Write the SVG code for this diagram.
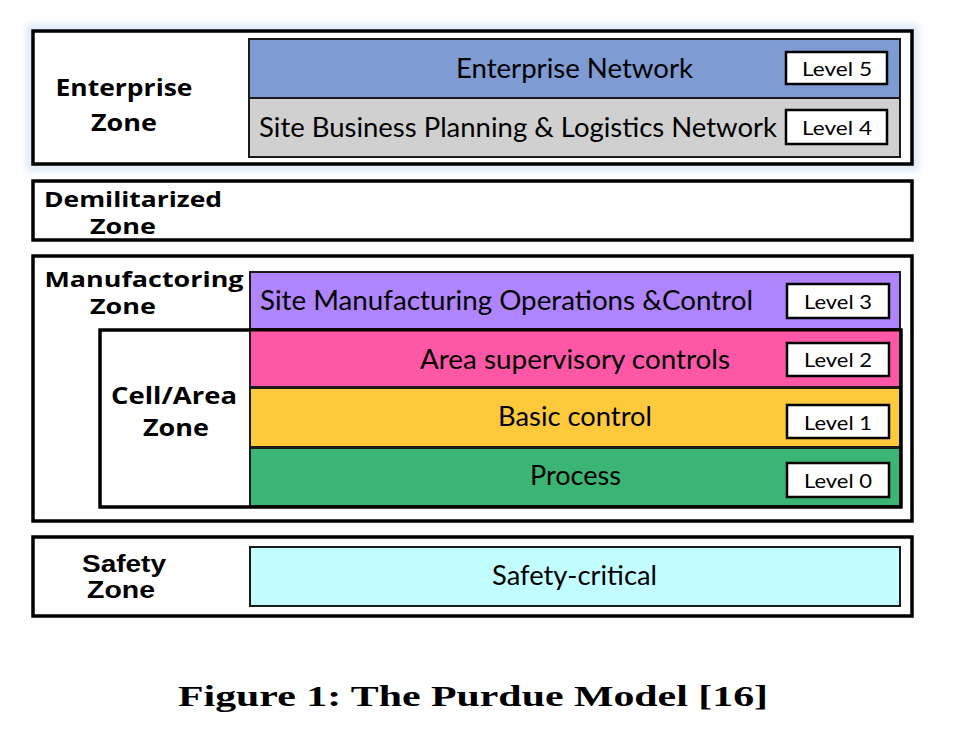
<svg xmlns="http://www.w3.org/2000/svg" width="953" height="729" viewBox="0 0 953 729">
<defs>
<style>
.zone{fill:#fff;stroke:#000;stroke-width:3.5}
.row{stroke:#1a1a1a;stroke-width:2}
.lvl{fill:#fff;stroke:#000;stroke-width:2.5}
.zt{font-family:"Open Sans","Liberation Sans",sans-serif;font-weight:bold;font-size:24px;fill:#000;text-anchor:middle}
.zs{font-size:22px}
.rt{font-family:Lato,"Open Sans",sans-serif;font-size:27px;fill:#000}
.lt{font-family:Lato,"Open Sans",sans-serif;font-size:20px;fill:#000}
.st{font-family:"Liberation Sans",Arial,sans-serif;font-weight:bold;font-size:23px;fill:#000}
.cap{font-family:"Liberation Serif","DejaVu Serif",serif;font-weight:bold;font-size:30px;fill:#000}
</style>
<filter id="glow" x="-5%" y="-10%" width="110%" height="120%"><feGaussianBlur stdDeviation="3"/></filter>
</defs>
<rect width="953" height="729" fill="#fff"/>

<g id="enterprise-zone">
<rect x="30" y="28" width="885" height="139" fill="none" stroke="#dfe9f7" stroke-width="8" filter="url(#glow)"/>
<rect class="zone" x="33" y="31" width="879" height="133"/>
<text class="zt" x="124" y="96" textLength="137" lengthAdjust="spacingAndGlyphs">Enterprise</text>
<text class="zt" x="124" y="131" textLength="66" lengthAdjust="spacingAndGlyphs">Zone</text>
</g>
<g id="level5">
<rect class="row" x="249" y="39" width="651" height="59" fill="#7f9bd3"/>
<text class="rt" x="456" y="78" textLength="237" lengthAdjust="spacingAndGlyphs">Enterprise Network</text>
<rect class="lvl" x="786" y="52" width="101" height="32"/>
<text class="lt" x="802" y="76" textLength="70" lengthAdjust="spacingAndGlyphs">Level 5</text>
</g>
<g id="level4">
<rect class="row" x="249" y="98" width="651" height="59" fill="#d0d0d0"/>
<text class="rt" x="259" y="137" textLength="518" lengthAdjust="spacingAndGlyphs">Site Business Planning &amp; Logistics Network</text>
<rect class="lvl" x="786" y="110" width="101" height="34"/>
<text class="lt" x="802" y="135" textLength="70" lengthAdjust="spacingAndGlyphs">Level 4</text>
</g>

<g id="dmz">
<rect class="zone" x="33" y="181" width="879" height="59"/>
<text class="zt zs" x="133" y="207" textLength="178" lengthAdjust="spacingAndGlyphs">Demilitarized</text>
<text class="zt zs" x="123" y="234" textLength="66" lengthAdjust="spacingAndGlyphs">Zone</text>
</g>

<g id="manufacturing-zone">
<rect class="zone" x="33" y="256" width="879" height="265"/>
<text class="zt zs" x="144" y="287" textLength="199" lengthAdjust="spacingAndGlyphs">Manufactoring</text>
<text class="zt zs" x="123" y="314" textLength="66" lengthAdjust="spacingAndGlyphs">Zone</text>
</g>
<g id="level3">
<rect class="row" x="250" y="272" width="650" height="57" fill="#af84fd"/>
<text class="rt" x="260" y="310" textLength="493" lengthAdjust="spacingAndGlyphs">Site Manufacturing Operations &amp;Control</text>
<rect class="lvl" x="787" y="284" width="102" height="34"/>
<text class="lt" x="804" y="309" textLength="68" lengthAdjust="spacingAndGlyphs">Level 3</text>
</g>
<g id="cell-area-zone">
<rect x="100" y="330" width="801" height="177" fill="#fff" stroke="#000" stroke-width="3"/>
<text class="zt" x="174" y="404" textLength="126" lengthAdjust="spacingAndGlyphs">Cell/Area</text>
<text class="zt" x="176" y="436" textLength="66" lengthAdjust="spacingAndGlyphs">Zone</text>
</g>
<g id="level2">
<rect class="row" x="250" y="330" width="650" height="57" fill="#fe57a8"/>
<text class="rt" x="420" y="369" textLength="310" lengthAdjust="spacingAndGlyphs">Area supervisory controls</text>
<rect class="lvl" x="787" y="343" width="102" height="33"/>
<text class="lt" x="804" y="367" textLength="68" lengthAdjust="spacingAndGlyphs">Level 2</text>
</g>
<g id="level1">
<rect class="row" x="250" y="388" width="650" height="59" fill="#fec93a"/>
<text class="rt" x="498" y="426" textLength="154" lengthAdjust="spacingAndGlyphs">Basic control</text>
<rect class="lvl" x="787" y="405" width="102" height="33"/>
<text class="lt" x="804" y="430" textLength="68" lengthAdjust="spacingAndGlyphs">Level 1</text>
</g>
<g id="level0">
<rect class="row" x="250" y="448" width="650" height="58" fill="#3bb574"/>
<text class="rt" x="530" y="485" textLength="91" lengthAdjust="spacingAndGlyphs">Process</text>
<rect class="lvl" x="787" y="463" width="102" height="34"/>
<text class="lt" x="804" y="488" textLength="68" lengthAdjust="spacingAndGlyphs">Level 0</text>
</g>
<rect x="100" y="330" width="801" height="177" fill="none" stroke="#000" stroke-width="3"/>

<g id="safety-zone">
<rect class="zone" x="33" y="537" width="879" height="79"/>
<text class="st" x="124" y="572" text-anchor="middle" textLength="84" lengthAdjust="spacingAndGlyphs">Safety</text>
<text class="st" x="121" y="598" text-anchor="middle" textLength="68" lengthAdjust="spacingAndGlyphs">Zone</text>
</g>
<g id="safety-critical">
<rect class="row" x="250" y="547" width="650" height="59" fill="#c2fdff"/>
<text class="rt" x="492" y="585" textLength="165" lengthAdjust="spacingAndGlyphs">Safety-critical</text>
</g>

<g id="connectors"></g>

<text class="cap" x="178" y="706" textLength="590" lengthAdjust="spacingAndGlyphs">Figure 1: The Purdue Model [16]</text>
</svg>
